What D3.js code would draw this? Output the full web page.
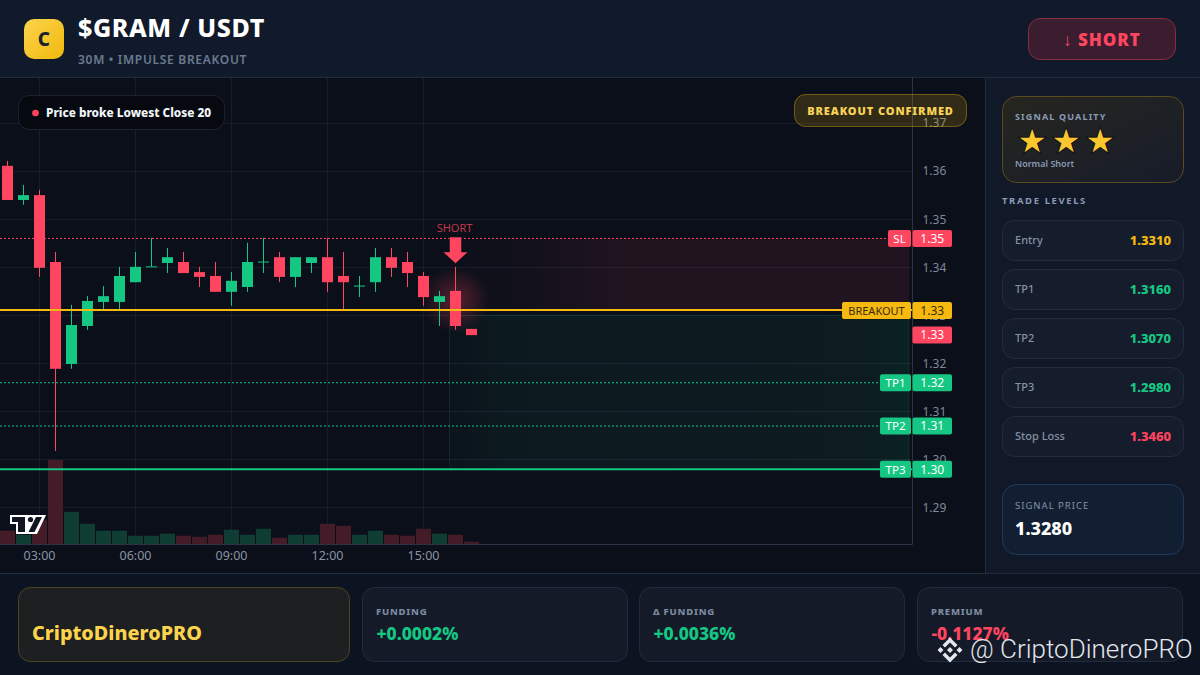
<!DOCTYPE html>
<html>
<head>
<meta charset="utf-8">
<script src="https://cdn.jsdelivr.net/npm/d3@7"></script>
<style>
  html, body { margin: 0; padding: 0; background: #0b0f19; overflow: hidden; }
  svg { display: block; font-family: "Noto Sans", sans-serif; }
</style>
</head>
<body>
<svg id="chart" width="1200" height="675"></svg>
<script>
// Candles, 30m each
const times = ["02:00","02:30","03:00","03:30","04:00","04:30","05:00","05:30","06:00","06:30",
  "07:00","07:30","08:00","08:30","09:00","09:30","10:00","10:30","11:00","11:30",
  "12:00","12:30","13:00","13:30","14:00","14:30","15:00","15:30","16:00","16:30"];
const opens  = [1.3611,1.3540,1.3550,1.3411,1.3199,1.3278,1.3328,1.3328,1.3369,1.3401,
  1.3409,1.3411,1.3390,1.3382,1.3349,1.3359,1.3411,1.3421,1.3380,1.3409,
  1.3421,1.3382,1.3361,1.3369,1.3421,1.3411,1.3382,1.3328,1.3351,1.3272];
const highs  = [1.3621,1.3571,1.3561,1.3432,1.3322,1.3340,1.3361,1.3401,1.3432,1.3461,
  1.3440,1.3432,1.3401,1.3411,1.3390,1.3451,1.3461,1.3432,1.3421,1.3421,
  1.3461,1.3432,1.3382,1.3440,1.3440,1.3432,1.3390,1.3351,1.3401,1.3272];
const lows   = [1.3540,1.3530,1.3380,1.3018,1.3189,1.3270,1.3313,1.3313,1.3369,1.3401,
  1.3388,1.3388,1.3359,1.3349,1.3320,1.3349,1.3388,1.3369,1.3359,1.3388,
  1.3349,1.3313,1.3338,1.3349,1.3380,1.3359,1.3320,1.3278,1.3270,1.3259];
const closes = [1.3540,1.3550,1.3399,1.3189,1.3280,1.3330,1.3340,1.3382,1.3401,1.3402,
  1.3421,1.3388,1.3380,1.3349,1.3372,1.3411,1.3412,1.3380,1.3421,1.3421,
  1.3369,1.3369,1.3362,1.3421,1.3399,1.3388,1.3338,1.3340,1.3278,1.3259];
const volumes = [1330,930,2430,8430,3230,2030,1330,1330,830,830,
  1030,830,730,930,1430,930,1530,630,930,930,
  2030,1830,930,1330,930,830,1530,1030,930,230];

const priceTicks = [1.37,1.36,1.35,1.34,1.33,1.32,1.31,1.30,1.29];
const timeTicks = ["03:00","06:00","09:00","12:00","15:00"];

// Levels drawn across the chart
const levelNames  = ["SL","BREAKOUT","TP1","TP2","TP3"];
const levelPrices = [1.3460,1.3311,1.3160,1.3070,1.2980];
const tradeNames  = ["Entry","TP1","TP2","TP3","Stop Loss"];
const tradeValues = ["1.3310","1.3160","1.3070","1.2980","1.3460"];
const footerNames  = ["FUNDING","Δ FUNDING","PREMIUM"];
const footerValues = ["+0.0002%","+0.0036%","-0.1127%"];

const green = "#16c784", red = "#ff4560", amber = "#f5b90f";
const levelColor = { SL: red, BREAKOUT: amber, TP1: green, TP2: green, TP3: green };

const svg = d3.select("#chart");
const defs = svg.append("defs");

function linear(id, x2, y2, stops) {
  const g = defs.append("linearGradient").attr("id", id)
    .attr("x1", 0).attr("y1", 0).attr("x2", x2).attr("y2", y2);
  stops.forEach(s => g.append("stop").attr("offset", s[0]).attr("stop-color", s[1]).attr("stop-opacity", s[2]));
}
linear("logoFill", 1, 1, [[0, "#fcd34d", 1], [1, "#f0b90b", 1]]);
linear("redZone", 1, 0, [[0, red, 0], [0.12, red, 0.02], [0.4, red, 0.09], [1, red, 0.09]]);
linear("greenZone", 1, 0, [[0, green, 0.02], [0.12, green, 0.06], [0.9, green, 0.07], [1, green, 0.1]]);
linear("qualityFill", 1, 1, [[0, "#26261f", 1], [1, "#171c2a", 1]]);
const glow = defs.append("radialGradient").attr("id", "glow");
glow.append("stop").attr("offset", 0).attr("stop-color", red).attr("stop-opacity", 0.32);
glow.append("stop").attr("offset", 1).attr("stop-color", red).attr("stop-opacity", 0);
defs.append("clipPath").attr("id", "plot").append("rect")
  .attr("width", 912).attr("height", 467).attr("y", 78);

// Page regions
svg.append("rect").attr("width", 1200).attr("height", 675).attr("fill", "#0d1421");
svg.append("rect").attr("y", 78).attr("width", 985).attr("height", 495).attr("fill", "#0b0f19");
svg.append("rect").attr("width", 1200).attr("height", 77).attr("fill", "#111a2b");
svg.append("rect").attr("x", 986).attr("y", 78).attr("width", 214).attr("height", 495).attr("fill", "#111827");
const border = "#232c3f";
svg.append("line").attr("x1", 0).attr("x2", 1200).attr("y1", 77.5).attr("y2", 77.5).attr("stroke", border);
svg.append("line").attr("x1", 0).attr("x2", 1200).attr("y1", 573.5).attr("y2", 573.5).attr("stroke", border);
svg.append("line").attr("x1", 985.5).attr("x2", 985.5).attr("y1", 78).attr("y2", 573).attr("stroke", border);

// Scales
const x = d3.scaleBand().domain(times).range([-0.5, 479.5]);
const y = d3.scaleLinear().domain([1.29, 1.37]).range([507.8, 123]);
const vol = d3.scaleLinear().domain([0, d3.max(volumes)]).range([544, 460]);
const cx = t => x(t) + x.bandwidth() / 2;
const snap = v => Math.round(v - 0.5) + 0.5;

const plot = svg.append("g").attr("clip-path", "url(#plot)");

// Grid
plot.selectAll(".hgrid").data(priceTicks).enter().append("line")
  .attr("x1", 0).attr("x2", 912)
  .attr("y1", d => snap(y(d))).attr("y2", d => snap(y(d)))
  .attr("stroke", "#181d2a");
plot.selectAll(".vgrid").data(timeTicks).enter().append("line")
  .attr("x1", d => cx(d)).attr("x2", d => cx(d))
  .attr("y1", 78).attr("y2", 544)
  .attr("stroke", "#181d2a");

// Risk / reward zones
const zoneX = cx("16:00") - 6;
plot.append("rect").attr("x", zoneX).attr("width", 909 - zoneX)
  .attr("y", y(levelPrices[0])).attr("height", y(levelPrices[1]) - y(levelPrices[0]))
  .attr("fill", "url(#redZone)");
plot.append("rect").attr("x", zoneX).attr("width", 909 - zoneX)
  .attr("y", y(1.33)).attr("height", y(levelPrices[4]) - y(1.33))
  .attr("rx", 6)
  .attr("fill", "url(#greenZone)").attr("stroke", green).attr("stroke-opacity", 0.14);

// Volume
plot.selectAll(".vol").data(times).enter().append("rect")
  .attr("x", d => x(d) + 0.5).attr("width", x.bandwidth() - 1)
  .attr("y", (d, i) => vol(volumes[i])).attr("height", (d, i) => 544 - vol(volumes[i]))
  .attr("fill", (d, i) => closes[i] >= opens[i] ? "#0f3d33" : "#431c28");

// Signal glow behind the last candles
plot.append("circle").attr("cx", cx("16:00")).attr("cy", y(1.3332)).attr("r", 34).attr("fill", "url(#glow)");

// Candles
const candles = plot.selectAll(".candle").data(times).enter().append("g").attr("class", "candle");
candles.append("line")
  .attr("x1", d => cx(d)).attr("x2", d => cx(d))
  .attr("y1", (d, i) => y(highs[i])).attr("y2", (d, i) => y(lows[i]))
  .attr("stroke", (d, i) => closes[i] >= opens[i] ? green : red);
candles.append("rect")
  .attr("x", d => cx(d) - 5.5).attr("width", 11)
  .attr("y", (d, i) => y(Math.max(opens[i], closes[i])))
  .attr("height", (d, i) => Math.max(1, Math.abs(y(opens[i]) - y(closes[i]))))
  .attr("fill", (d, i) => closes[i] >= opens[i] ? green : red);

// Level lines
plot.selectAll(".level").data(levelNames).enter().append("line")
  .attr("x1", 0).attr("x2", 912)
  .attr("y1", (d, i) => y(levelPrices[i])).attr("y2", (d, i) => y(levelPrices[i]))
  .attr("stroke", d => levelColor[d])
  .attr("stroke-width", d => d === "BREAKOUT" || d === "TP3" ? 2 : 1)
  .attr("stroke-dasharray", d => d === "BREAKOUT" || d === "TP3" ? null : "2 2");

// Axes
const yAxis = svg.append("g").attr("transform", "translate(912.5,0)")
  .call(d3.axisRight(y).tickValues(priceTicks).tickSize(0).tickPadding(10).tickFormat(d3.format(".2f")));
yAxis.select(".domain").remove();
yAxis.selectAll("text").attr("fill", "#7f8999").attr("font-size", 12).attr("font-family", "Noto Sans");
svg.append("line").attr("x1", 912.5).attr("x2", 912.5).attr("y1", 78).attr("y2", 544.5).attr("stroke", "#2a3447");

const xAxis = svg.append("g").attr("transform", "translate(0,544.5)")
  .call(d3.axisBottom(x).tickValues(timeTicks).tickSize(0).tickPadding(7));
xAxis.select(".domain").remove();
xAxis.selectAll("text").attr("fill", "#8a93a3").attr("font-size", 12.5).attr("font-family", "Noto Sans");
svg.append("line").attr("x1", 0).attr("x2", 912.5).attr("y1", 544.5).attr("y2", 544.5).attr("stroke", "#2a3447");

// Level tags on the price axis
function tag(x0, w, yc, fill, label, color, size) {
  svg.append("rect").attr("x", x0).attr("y", yc - 8.5).attr("width", w).attr("height", 17).attr("rx", 2).attr("fill", fill);
  svg.append("text").attr("x", x0 + w / 2).attr("y", yc + 4.2).attr("text-anchor", "middle")
    .attr("font-size", size).attr("fill", color).text(label);
}
const tagWidth = { SL: 23, BREAKOUT: 69, TP1: 31, TP2: 31, TP3: 31 };
levelNames.forEach((name, i) => {
  const yc = y(levelPrices[i]) + (name === "BREAKOUT" ? 0.5 : 0);
  const ink = name === "BREAKOUT" ? "#3a2c05" : "#ffffff";
  tag(911 - tagWidth[name], tagWidth[name], yc, levelColor[name], name, ink, name === "BREAKOUT" ? 11 : 11.5);
  tag(912.5, 39.5, yc, levelColor[name], d3.format(".2f")(levelPrices[i]), ink, 12);
});
tag(912.5, 39.5, y(closes[29]), red, d3.format(".2f")(closes[29]), "#ffffff", 12);

// Short marker above the signal candle
const markX = cx("16:00");
svg.append("text").attr("x", markX - 1).attr("y", 232).attr("text-anchor", "middle")
  .attr("font-size", 11).attr("fill", red).attr("fill-opacity", 0.75).text("SHORT");
svg.append("path").attr("transform", `translate(${markX},237)`)
  .attr("d", "M-6,0H6V15H12.5L0,26.5L-12.5,15H-6Z")
  .attr("fill", red).attr("stroke", "#0b0f19").attr("stroke-opacity", 0.5);

// Badges on the chart
svg.append("rect").attr("x", 18.5).attr("y", 95.5).attr("width", 206).attr("height", 34).attr("rx", 11)
  .attr("fill", "#06090f").attr("stroke", "#1c2231");
svg.append("circle").attr("cx", 35.5).attr("cy", 113).attr("r", 3.3).attr("fill", red);
svg.append("text").attr("x", 46).attr("y", 117).attr("font-size", 11.8).attr("font-weight", 800)
  .attr("fill", "#f1f5f9").text("Price broke Lowest Close 20");
svg.append("rect").attr("x", 794.5).attr("y", 94.5).attr("width", 172).attr("height", 32).attr("rx", 11)
  .attr("fill", "#f5b90f").attr("fill-opacity", 0.16).attr("stroke", "#f5b90f").attr("stroke-opacity", 0.4);
svg.append("text").attr("x", 880.5).attr("y", 115).attr("text-anchor", "middle")
  .attr("font-size", 11).attr("font-weight", 900).attr("letter-spacing", 0.9).attr("fill", "#f8d257")
  .text("BREAKOUT CONFIRMED");

// TradingView mark
svg.append("path")
  .attr("d", "M10,515H46L37,534H16V524H10Z").attr("fill", "#ffffff");
svg.append("path")
  .attr("d", "M12,517H25V532H18V522H12Z M42,517L34.5,532H28.5L36,517Z").attr("fill", "#111622");
svg.append("circle").attr("cx", 30.5).attr("cy", 519.5).attr("r", 2.6).attr("fill", "#111622");

// Header
svg.append("rect").attr("x", 24).attr("y", 19).attr("width", 40).attr("height", 40).attr("rx", 10).attr("fill", "url(#logoFill)");
svg.append("text").attr("x", 44).attr("y", 46).attr("text-anchor", "middle")
  .attr("font-size", 19).attr("font-weight", 800).attr("fill", "#1a202c").text("C");
svg.append("text").attr("x", 78).attr("y", 37).attr("font-size", 25).attr("font-weight", 800)
  .attr("letter-spacing", 0.6).attr("fill", "#ffffff").text("$GRAM / USDT");
svg.append("text").attr("x", 78).attr("y", 64).attr("font-size", 12).attr("font-weight", 600)
  .attr("letter-spacing", 0.7).attr("fill", "#6b7a90").text("30M • IMPULSE BREAKOUT");
svg.append("rect").attr("x", 1028.5).attr("y", 18.5).attr("width", 147).attr("height", 41).attr("rx", 12)
  .attr("fill", "#3a1d2e").attr("stroke", "#8c2c40");
svg.append("text").attr("x", 1102).attr("y", 46).attr("text-anchor", "middle")
  .attr("font-size", 17).attr("font-weight", 900).attr("letter-spacing", 1).attr("fill", red).text("↓ SHORT");

// Sidebar
const side = svg.append("g");
side.append("rect").attr("x", 1002.5).attr("y", 96.5).attr("width", 181).attr("height", 86).attr("rx", 14)
  .attr("fill", "url(#qualityFill)").attr("stroke", "#5c4a20");
side.append("text").attr("x", 1015).attr("y", 120).attr("font-size", 9).attr("font-weight", 700)
  .attr("letter-spacing", 1.15).attr("fill", "#8a9ab5").text("SIGNAL QUALITY");
side.selectAll(".star").data([1032, 1066, 1100]).enter().append("text")
  .attr("x", d => d).attr("y", 152).attr("text-anchor", "middle")
  .attr("font-family", "DejaVu Sans").attr("font-size", 32)
  .attr("fill", "#fcc72e").attr("stroke", "#0b0f19").attr("stroke-width", 1.8).attr("paint-order", "stroke")
  .text("★");
side.append("text").attr("x", 1015).attr("y", 167).attr("font-size", 9).attr("font-weight", 600)
  .attr("fill", "#8a9ab5").text("Normal Short");
side.append("text").attr("x", 1002).attr("y", 204).attr("font-size", 9.5).attr("font-weight", 700)
  .attr("letter-spacing", 1.6).attr("fill", "#8a9ab5").text("TRADE LEVELS");

const rows = side.selectAll(".row").data(tradeNames).enter().append("g")
  .attr("transform", (d, i) => `translate(1002.5,${220.5 + i * 49})`);
rows.append("rect").attr("width", 181).attr("height", 40).attr("rx", 12)
  .attr("fill", "#151c2b").attr("stroke", "#232c40");
rows.append("text").attr("x", 12.5).attr("y", 23).attr("font-size", 11).attr("font-weight", 500)
  .attr("fill", "#8492a6").text(d => d);
rows.append("text").attr("x", 168.5).attr("y", 24).attr("text-anchor", "end")
  .attr("font-size", 13).attr("font-weight", 800)
  .attr("fill", (d, i) => i === 0 ? amber : i === 4 ? red : green)
  .text((d, i) => tradeValues[i]);

side.append("rect").attr("x", 1002.5).attr("y", 484.5).attr("width", 181).attr("height", 70).attr("rx", 14)
  .attr("fill", "#121f33").attr("stroke", "#203a5c");
side.append("text").attr("x", 1015).attr("y", 509).attr("font-size", 9.5)
  .attr("letter-spacing", 1).attr("fill", "#8492a6").text("SIGNAL PRICE");
side.append("text").attr("x", 1015).attr("y", 535).attr("font-size", 18).attr("font-weight", 800)
  .attr("fill", "#ffffff").text("1.3280");

// Footer
svg.append("rect").attr("x", 18.5).attr("y", 587.5).attr("width", 331).attr("height", 74).attr("rx", 12)
  .attr("fill", "#1e1f20").attr("stroke", "#4f4420");
svg.append("text").attr("x", 32).attr("y", 640).attr("font-size", 19.8).attr("font-weight", 800)
  .attr("fill", "#fcd34d").text("CriptoDineroPRO");
const footerX = [362.5, 639.5, 917.5];
const cards = svg.selectAll(".card").data(footerNames).enter().append("g")
  .attr("transform", (d, i) => `translate(${footerX[i]},587.5)`);
cards.append("rect").attr("width", 265).attr("height", 74).attr("rx", 12)
  .attr("fill", "#141a28").attr("stroke", "#232b3c");
cards.append("text").attr("x", 13.5).attr("y", 27).attr("font-size", 9.5).attr("font-weight", 800)
  .attr("letter-spacing", 0.8).attr("fill", "#7d8ba1").text(d => d);
cards.append("text").attr("x", 14).attr("y", 52).attr("font-size", 17.5).attr("font-weight", 800)
  .attr("fill", (d, i) => footerValues[i][0] === "+" ? green : red).text((d, i) => footerValues[i]);

// Watermark
const mark = svg.append("g").attr("transform", "translate(950,650)").attr("fill", "#e3e6ec");
mark.append("path").attr("d", "M0,-12.5L7.5,-5L5,-2.5L0,-7.5L-5,-2.5L-7.5,-5Z M0,12.5L7.5,5L5,2.5L0,7.5L-5,2.5L-7.5,5Z M-12.5,0L-9.5,-3L-6.5,0L-9.5,3Z M12.5,0L9.5,-3L6.5,0L9.5,3Z M0,-3L3,0L0,3L-3,0Z");
svg.append("text").attr("x", 970).attr("y", 658).attr("font-family", "Roboto").attr("font-size", 26)
  .attr("font-weight", 300).attr("fill", "#e3e6ec").text("@ CriptoDineroPRO");
</script>
</body>
</html>
